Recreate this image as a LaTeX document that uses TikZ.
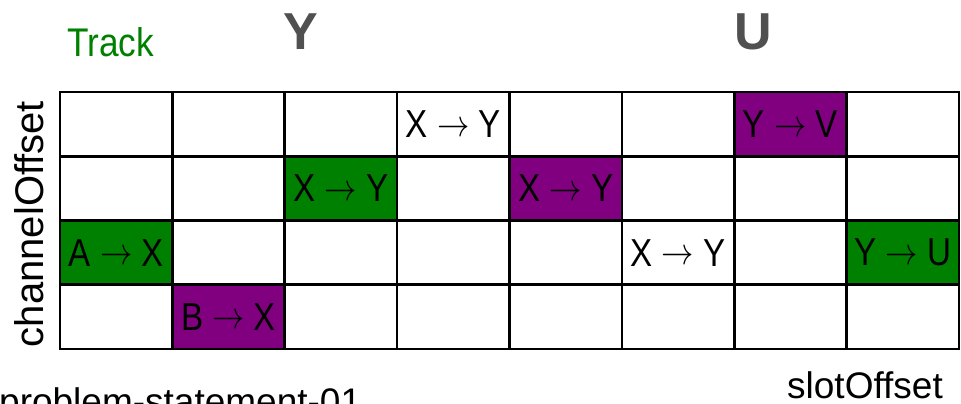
\documentclass[tikz,border=0pt]{standalone}
\usepackage{fontspec}
\setmainfont{Liberation Sans}
\definecolor{tgreen}{HTML}{008000}
\definecolor{tpurple}{HTML}{800080}
\definecolor{hdrgray}{HTML}{505050}
\tikzset{
  cell/.style={draw=black, line width=2.6pt, minimum width=112.4pt, minimum height=64.25pt, inner sep=0pt, outer sep=0pt, font=\fontsize{39}{39}\selectfont},
  gcell/.style={cell, fill=tgreen},
  pcell/.style={cell, fill=tpurple},
  hdr/.style={font=\fontsize{52}{52}\selectfont\bfseries, text=hdrgray, inner sep=0pt},
  axis/.style={font=\fontsize{37}{37}\selectfont, inner sep=0pt}
}
\newcommand{\cx}[1]{60+112.375*(#1-0.5)}
\newcommand{\cy}[1]{92+64.25*(#1-0.5)}
\newcommand{\tr}[2]{\scalebox{0.85}[1]{#1 \raisebox{1.5pt}{\resizebox{38pt}{!}{$\rightarrow$}} #2}}
\begin{document}
\begin{tikzpicture}[x=1pt,y=-1pt]
\useasboundingbox (0,0) rectangle (961,404);
\foreach \i in {1,...,8}{
  \foreach \j in {1,...,4}{
    \node[cell] (c-\i-\j) at ({\cx{\i}},{\cy{\j}}) {};
  }
}
\node[cell] (t1) at ({\cx{4}},{\cy{1}}) {\tr{X}{Y}};
\node[pcell] (t2) at ({\cx{7}},{\cy{1}}) {\tr{Y}{V}};
\node[gcell] (t3) at ({\cx{3}},{\cy{2}}) {\tr{X}{Y}};
\node[pcell] (t4) at ({\cx{5}},{\cy{2}}) {\tr{X}{Y}};
\node[gcell] (t5) at ({\cx{1}},{\cy{3}}) {\tr{A}{X}};
\node[cell] (t6) at ({\cx{6}},{\cy{3}}) {\tr{X}{Y}};
\node[gcell] (t7) at ({\cx{8}},{\cy{3}}) {\tr{Y}{U}};
\node[pcell] (t8) at ({\cx{2}},{\cy{4}}) {\tr{B}{X}};
% headers
\node[font=\fontsize{40}{40}\selectfont, text=tgreen, anchor=base west, inner sep=0pt] (track) at (67,57) {\scalebox{0.88}[1]{Track}};
\node[hdr, anchor=base] (hy) at (301,49) {Y};
\node[hdr, anchor=base] (hu) at (753,49) {U};
% axis labels
\node[font=\fontsize{40}{40}\selectfont, inner sep=0pt, rotate=90, anchor=base] (ch) at (43,224) {channelOffset};
\node[axis, anchor=base east] (slot) at (943,398) {slotOffset};
\node[axis, anchor=base west] (prob) at (-1,414) {problem-statement-01};
\end{tikzpicture}
\end{document}
